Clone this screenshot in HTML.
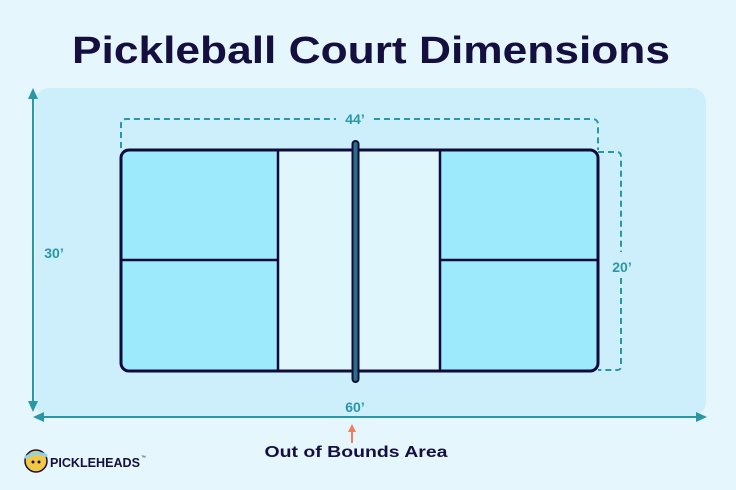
<!DOCTYPE html>
<html><head><meta charset="utf-8"><style>
html,body{margin:0;padding:0;background:#e6f6fd;}
svg{display:block;font-family:"Liberation Sans",sans-serif;}
</style></head><body>
<svg width="736" height="490" viewBox="0 0 736 490" xmlns="http://www.w3.org/2000/svg">
<rect width="736" height="490" fill="#e6f6fd"/>
<text x="371" y="63" text-anchor="middle" font-size="38" font-weight="bold" fill="#150f3f" textLength="598" lengthAdjust="spacingAndGlyphs">Pickleball Court Dimensions</text>
<rect x="35" y="88" width="671" height="328" rx="14" fill="#cdeefb"/>
<!-- vertical arrow -->
<line x1="33" y1="94" x2="33" y2="408" stroke="#2a97a6" stroke-width="2"/>
<polygon points="33,88 28,99 38,99" fill="#2a97a6"/>
<polygon points="33,412 28,401 38,401" fill="#2a97a6"/>
<!-- horizontal arrow -->
<line x1="38" y1="417" x2="702" y2="417" stroke="#2a97a6" stroke-width="2"/>
<polygon points="33,417 44,412 44,422" fill="#2a97a6"/>
<polygon points="707,417 696,412 696,422" fill="#2a97a6"/>
<!-- dashed dims -->
<path d="M121,148 V124 Q121,119 126,119 H336 M374,119 H592 Q598,119 598,125 V150" fill="none" stroke="#2a97a6" stroke-width="2" stroke-dasharray="6,4"/>
<path d="M598,152 H617 Q621,152 621,157 V252 M621,278 V366 Q621,370 617,370 H598" fill="none" stroke="#2a97a6" stroke-width="2" stroke-dasharray="6,4"/>
<text x="355" y="124" text-anchor="middle" font-size="14" font-weight="bold" fill="#2a97a6">44’</text>
<text x="622" y="272" text-anchor="middle" font-size="14" font-weight="bold" fill="#2a97a6">20’</text>
<text x="54" y="258" text-anchor="middle" font-size="14" font-weight="bold" fill="#2a97a6">30’</text>
<text x="355" y="412" text-anchor="middle" font-size="14" font-weight="bold" fill="#2a97a6">60’</text>
<!-- court -->
<rect x="121" y="150" width="477" height="221" rx="8" fill="#9deafc"/>
<rect x="278" y="151" width="162" height="219" fill="#dff6fd"/>
<rect x="121" y="150" width="477" height="221" rx="8" fill="none" stroke="#100c3a" stroke-width="3"/>
<line x1="278" y1="150" x2="278" y2="371" stroke="#100c3a" stroke-width="2.5"/>
<line x1="440" y1="150" x2="440" y2="371" stroke="#100c3a" stroke-width="2.5"/>
<line x1="121" y1="260" x2="278" y2="260" stroke="#100c3a" stroke-width="2.5"/>
<line x1="440" y1="260" x2="598" y2="260" stroke="#100c3a" stroke-width="2.5"/>
<rect x="352.5" y="141" width="6" height="241" rx="3" fill="#2a6f86" stroke="#100c3a" stroke-width="2"/>
<!-- out of bounds -->
<line x1="352" y1="443" x2="352" y2="428" stroke="#ef7d62" stroke-width="2"/>
<polygon points="352,424 348,432 356,432" fill="#ef7d62"/>
<text x="356" y="457" text-anchor="middle" font-size="16" font-weight="bold" fill="#150f3f" textLength="183" lengthAdjust="spacingAndGlyphs">Out of Bounds Area</text>
<!-- logo -->
<circle cx="36" cy="461" r="11" fill="#f2c744" stroke="#150f3f" stroke-width="1.5"/>
<path d="M25,458 Q36,450 47,456" stroke="#8fd3e8" stroke-width="3" fill="none"/>
<circle cx="33" cy="462" r="1.5" fill="#150f3f"/><circle cx="39" cy="462" r="1.5" fill="#150f3f"/>
<text x="50" y="467" font-size="13" font-weight="bold" fill="#150f3f" textLength="90" lengthAdjust="spacingAndGlyphs">PICKLEHEADS</text>
<text x="141" y="459" font-size="5" fill="#150f3f">™</text>
</svg>
</body></html>
